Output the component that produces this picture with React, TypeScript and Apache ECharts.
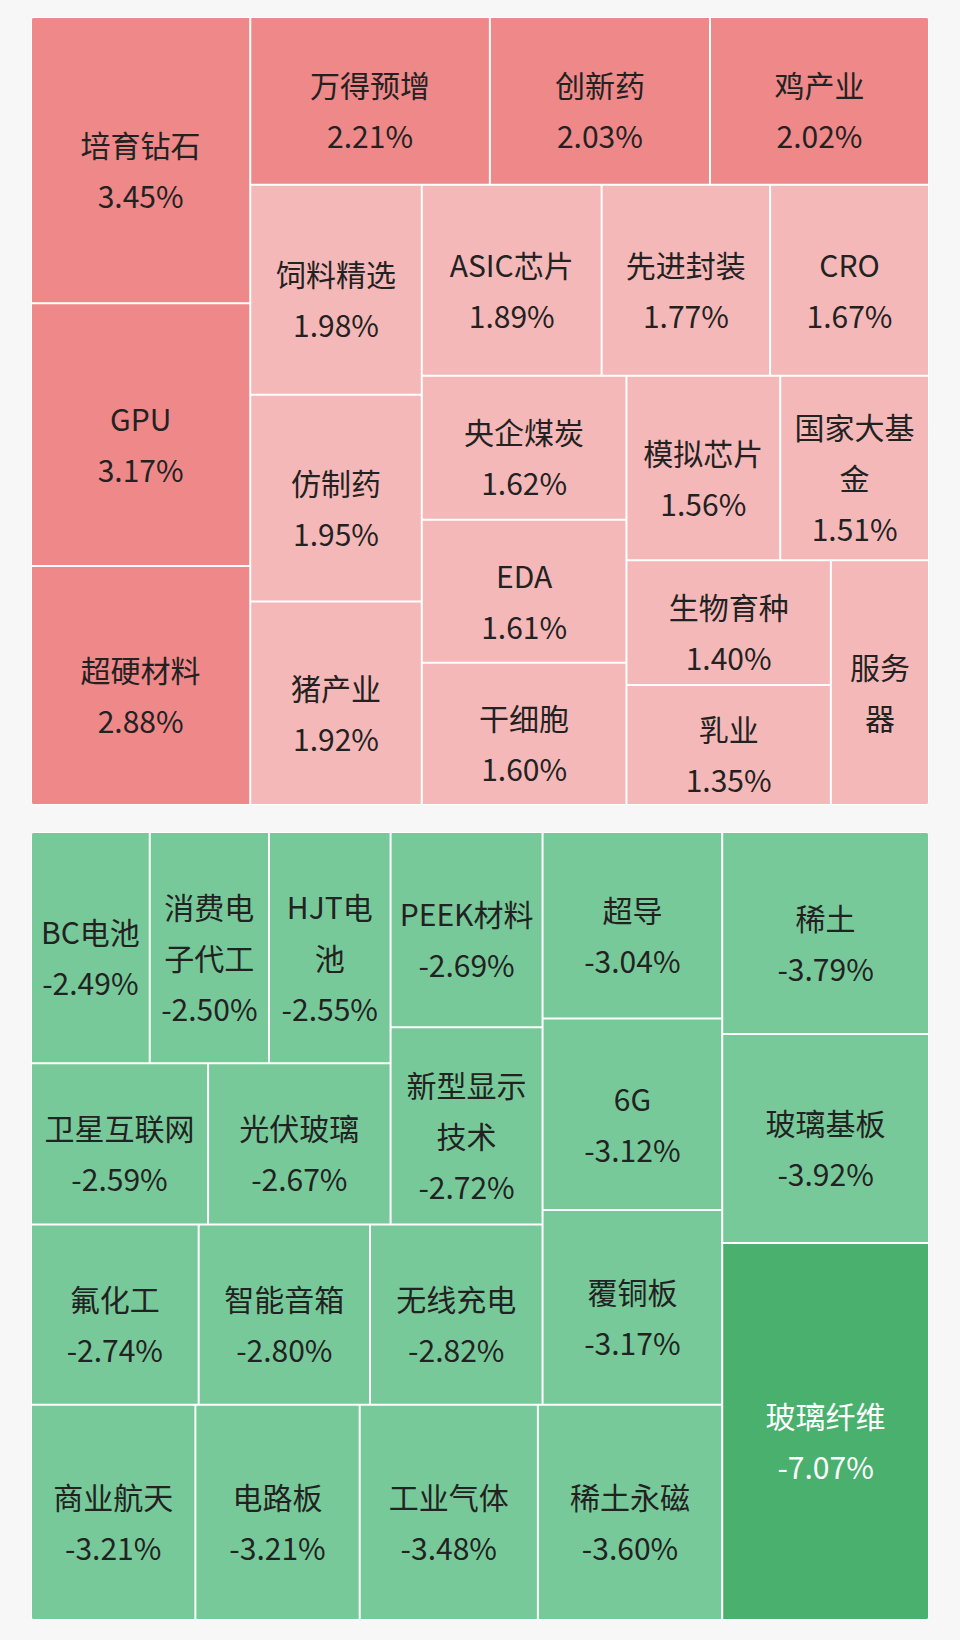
import React, { useEffect, useRef } from "react";
import * as echarts from "echarts";

// Sector moves (%), gainers and losers
const gainNames = [
  "培育钻石", "GPU", "超硬材料", "万得预增", "创新药", "鸡产业", "饲料精选",
  "仿制药", "猪产业", "ASIC芯片", "先进封装", "CRO", "央企煤炭", "EDA",
  "干细胞", "模拟芯片", "国家大基金", "生物育种", "乳业", "服务器",
];
const gainValues = [
  3.45, 3.17, 2.88, 2.21, 2.03, 2.02, 1.98, 1.95, 1.92, 1.89, 1.77, 1.67,
  1.62, 1.61, 1.6, 1.56, 1.51, 1.4, 1.35, 1.32,
];
const lossNames = [
  "玻璃纤维", "玻璃基板", "稀土", "稀土永磁", "工业气体", "商业航天", "电路板",
  "覆铜板", "6G", "超导", "无线充电", "智能音箱", "氟化工", "新型显示技术",
  "PEEK材料", "光伏玻璃", "卫星互联网", "HJT电池", "消费电子代工", "BC电池",
];
const lossValues = [
  -7.07, -3.92, -3.79, -3.6, -3.48, -3.21, -3.21, -3.17, -3.12, -3.04, -2.82,
  -2.8, -2.74, -2.72, -2.69, -2.67, -2.59, -2.55, -2.5, -2.49,
];
// Tiles whose label shows the name only
const nameOnly = ["服务器"];

const FONT = "'Noto Sans CJK SC', 'Noto Sans', sans-serif";
const PANEL_LEFT = 31;
const PANEL_W = 898;
const PANEL_H = 788;
const TOP_GAIN = 17;
const TOP_LOSS = 832;

function fillFor(v: number): string {
  if (v >= 2) return "#EE8889";
  if (v > 0) return "#F5B8B8";
  if (v <= -5) return "#4AB06E";
  return "#78C999";
}

function textFor(v: number): string {
  return v <= -5 ? "#ffffff" : "#222222";
}

function fmt(v: number): string {
  return v.toFixed(2) + "%";
}

function buildOption(names: string[], values: number[], squareRatio: number, flipped: boolean) {
  const data = names.map((name, i) => ({
    name,
    value: Math.abs(values[i]),
    change: values[i],
    itemStyle: { color: fillFor(values[i]) },
    label: { color: textFor(values[i]) },
  }));
  return {
    animation: false,
    series: [
      {
        type: "treemap",
        left: 0,
        top: 0,
        width: "100%",
        height: "100%",
        squareRatio,
        roam: false,
        nodeClick: false,
        silent: true,
        breadcrumb: { show: false },
        levels: [
          { itemStyle: { borderWidth: 0, gapWidth: 0 } },
          { itemStyle: { borderWidth: 1, borderColor: "#ffffff", gapWidth: 0 } },
        ],
        label: {
          show: true,
          position: "inside",
          padding: 4,
          overflow: "break",
          rotate: flipped ? 180 : 0,
          offset: [0, 9],
          fontFamily: FONT,
          fontSize: 30,
          lineHeight: 51,
          color: "#222222",
          formatter: (p: any) =>
            nameOnly.includes(p.name) ? p.name : `${p.name}\n${fmt(p.data.change)}`,
        },
        data,
      },
    ],
  };
}

function Panel(props: { top: number; names: string[]; values: number[]; ratio: number; flipped: boolean }) {
  const ref = useRef<HTMLDivElement>(null);
  useEffect(() => {
    if (!ref.current) return;
    const chart = echarts.init(ref.current, null, { renderer: "svg" });
    chart.setOption(buildOption(props.names, props.values, props.ratio, props.flipped) as any);
    return () => chart.dispose();
  }, []);
  return (
    <div
      style={{
        position: "absolute",
        left: PANEL_LEFT,
        top: props.top,
        width: PANEL_W,
        height: PANEL_H,
        borderRadius: 5,
        overflow: "hidden",
        transform: props.flipped ? "rotate(180deg)" : undefined,
      }}
    >
      <div ref={ref} style={{ width: PANEL_W, height: PANEL_H }} />
    </div>
  );
}

export default function App() {
  return (
    <div
      style={{
        position: "absolute",
        left: 0,
        top: 0,
        width: 960,
        height: 1640,
        background: "#F7F7F7",
      }}
    >
      <Panel top={TOP_GAIN} names={gainNames} values={gainValues} ratio={0.965} flipped={false} />
      <Panel top={TOP_LOSS} names={lossNames} values={lossValues} ratio={0.95} flipped={true} />
    </div>
  );
}
